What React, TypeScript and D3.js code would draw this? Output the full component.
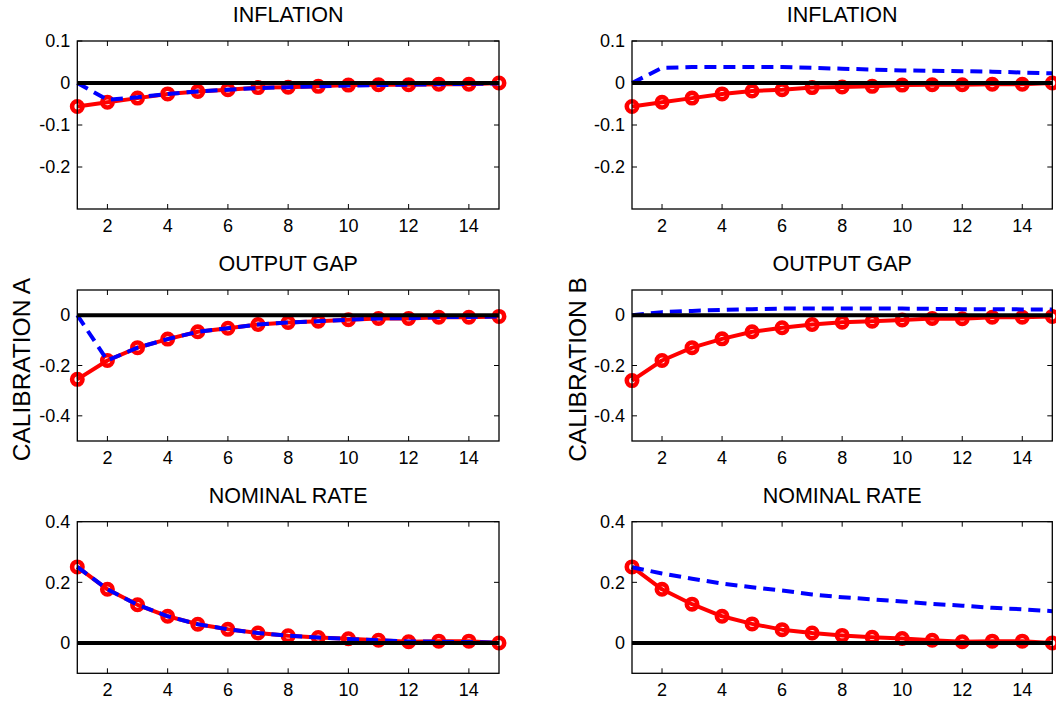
import React from "react";
import * as d3 from "d3";

// Horizon (quarters)
const periods = [1, 2, 3, 4, 5, 6, 7, 8, 9, 10, 11, 12, 13, 14, 15];
const xTicks = [2, 4, 6, 8, 10, 12, 14];

// Calibration A responses
const solidInflationA = [-0.056, -0.046, -0.036, -0.026, -0.02, -0.016, -0.011, -0.01, -0.008, -0.005, -0.004, -0.004, -0.003, -0.003, 0];
const dashedInflationA = [0, -0.04, -0.034, -0.026, -0.02, -0.016, -0.012, -0.01, -0.008, -0.006, -0.005, -0.004, -0.003, -0.002, -0.001];
const solidOutputA = [-0.255, -0.18, -0.129, -0.095, -0.066, -0.052, -0.037, -0.029, -0.024, -0.018, -0.013, -0.013, -0.008, -0.008, -0.005];
const dashedOutputA = [0, -0.18, -0.129, -0.095, -0.066, -0.052, -0.037, -0.029, -0.024, -0.018, -0.013, -0.012, -0.008, -0.007, -0.005];
const solidRateA = [0.251, 0.177, 0.126, 0.088, 0.062, 0.045, 0.033, 0.024, 0.018, 0.014, 0.009, 0.004, 0.006, 0.006, 0];
const dashedRateA = [0.251, 0.177, 0.126, 0.088, 0.062, 0.045, 0.033, 0.024, 0.018, 0.013, 0.009, 0.005, 0.004, 0.003, 0.001];

// Calibration B responses
const solidInflationB = [-0.056, -0.046, -0.036, -0.026, -0.019, -0.016, -0.011, -0.0095, -0.008, -0.005, -0.004, -0.004, -0.003, -0.003, 0];
const dashedInflationB = [0, 0.036, 0.038, 0.038, 0.038, 0.038, 0.036, 0.034, 0.032, 0.03, 0.029, 0.028, 0.027, 0.025, 0.023];
const solidOutputB = [-0.26, -0.18, -0.129, -0.094, -0.066, -0.05, -0.037, -0.028, -0.024, -0.019, -0.013, -0.014, -0.008, -0.008, -0.005];
const dashedOutputB = [0, 0.012, 0.017, 0.021, 0.024, 0.026, 0.026, 0.026, 0.026, 0.026, 0.025, 0.024, 0.024, 0.023, 0.023];
const solidRateB = [0.251, 0.177, 0.128, 0.088, 0.063, 0.044, 0.033, 0.025, 0.019, 0.015, 0.009, 0.004, 0.006, 0.006, 0];
const dashedRateB = [0.25, 0.229, 0.212, 0.196, 0.184, 0.173, 0.16, 0.151, 0.144, 0.137, 0.129, 0.123, 0.116, 0.111, 0.105];

const panelTitles = ["INFLATION", "OUTPUT GAP", "NOMINAL RATE"];
const calibrationLabels = ["CALIBRATION A", "CALIBRATION B"];

const yDomains: [number, number][] = [[-0.3, 0.1], [-0.5, 0.1], [-0.1, 0.4]];
const yTickValues = [[-0.2, -0.1, 0, 0.1], [-0.4, -0.2, 0], [0, 0.2, 0.4]];
const yTickLabels = [["-0.2", "-0.1", "0", "0.1"], ["-0.4", "-0.2", "0"], ["0", "0.2", "0.4"]];

const solidSeries = [
  [solidInflationA, solidOutputA, solidRateA],
  [solidInflationB, solidOutputB, solidRateB],
];
const dashedSeries = [
  [dashedInflationA, dashedOutputA, dashedRateA],
  [dashedInflationB, dashedOutputB, dashedRateB],
];

// Layout
const colX: [number, number][] = [[77.3, 499], [632, 1052.3]];
const rowY: [number, number][] = [[41, 209], [290, 441], [521.7, 673.3]];
const labelX = [21, 577];
const FONT = "'Liberation Sans', Arial, Helvetica, sans-serif";
const TICK = 5;

function Panel({ col, row }: { col: number; row: number }) {
  const [x0, x1] = colX[col];
  const [y0, y1] = rowY[row];
  const x = d3.scaleLinear().domain([1, 15]).range([x0, x1]);
  const y = d3.scaleLinear().domain(yDomains[row]).range([y1, y0]);
  const line = d3
    .line<number>()
    .x((_, i) => x(periods[i]))
    .y((d) => y(d));
  const solid = solidSeries[col][row];
  const dashed = dashedSeries[col][row];
  const zero = periods.map(() => 0);

  return (
    <g>
      {/* title */}
      <text
        x={(x0 + x1) / 2}
        y={y0 - 19}
        textAnchor="middle"
        fontFamily={FONT}
        fontSize={21.5}
        fill="#000"
      >
        {panelTitles[row]}
      </text>

      {/* solid line with open circle markers */}
      <path d={line(solid) ?? ""} fill="none" stroke="#ff0000" strokeWidth={4} strokeLinejoin="round" />
      {solid.map((v, i) => (
        <circle key={i} cx={x(periods[i])} cy={y(v)} r={5.2} fill="none" stroke="#ff0000" strokeWidth={4.6} />
      ))}

      {/* dashed line */}
      <path d={line(dashed) ?? ""} fill="none" stroke="#0000ff" strokeWidth={4} strokeDasharray="12,7" />

      {/* zero line */}
      <path d={line(zero) ?? ""} fill="none" stroke="#000" strokeWidth={4} />

      {/* axes box */}
      <rect x={x0} y={y0} width={x1 - x0} height={y1 - y0} fill="none" stroke="#000" strokeWidth={1.3} />

      {/* x ticks (bottom and top) */}
      {xTicks.map((t) => (
        <g key={"x" + t}>
          <line x1={x(t)} x2={x(t)} y1={y1} y2={y1 - TICK} stroke="#000" strokeWidth={1} />
          <line x1={x(t)} x2={x(t)} y1={y0} y2={y0 + TICK} stroke="#000" strokeWidth={1} />
          <text x={x(t)} y={y1 + 23} textAnchor="middle" fontFamily={FONT} fontSize={18} fill="#000">
            {t}
          </text>
        </g>
      ))}

      {/* y ticks (left and right) */}
      {yTickValues[row].map((t, i) => (
        <g key={"y" + t}>
          <line x1={x0} x2={x0 + TICK} y1={y(t)} y2={y(t)} stroke="#000" strokeWidth={1} />
          <line x1={x1} x2={x1 - TICK} y1={y(t)} y2={y(t)} stroke="#000" strokeWidth={1} />
          <text
            x={x0 - 7}
            y={y(t)}
            dy="0.35em"
            textAnchor="end"
            fontFamily={FONT}
            fontSize={18}
            fill="#000"
          >
            {yTickLabels[row][i]}
          </text>
        </g>
      ))}
    </g>
  );
}

export default function App() {
  const midRow = rowY[1];
  return (
    <svg
      width={1056}
      height={704}
      viewBox="0 0 1056 704"
      style={{ position: "absolute", left: 0, top: 0, background: "#fff" }}
    >
      <rect x={0} y={0} width={1056} height={704} fill="#fff" />
      {[0, 1].map((col) =>
        [0, 1, 2].map((row) => <Panel key={col + "-" + row} col={col} row={row} />)
      )}
      {calibrationLabels.map((lab, col) => {
        const cy = (midRow[0] + midRow[1]) / 2 + 4;
        return (
          <text
            key={lab}
            x={labelX[col]}
            y={cy}
            transform={`rotate(-90 ${labelX[col]} ${cy})`}
            textAnchor="middle"
            dy="0.35em"
            fontFamily={FONT}
            fontSize={24.5}
            fill="#000"
          >
            {lab}
          </text>
        );
      })}
    </svg>
  );
}
